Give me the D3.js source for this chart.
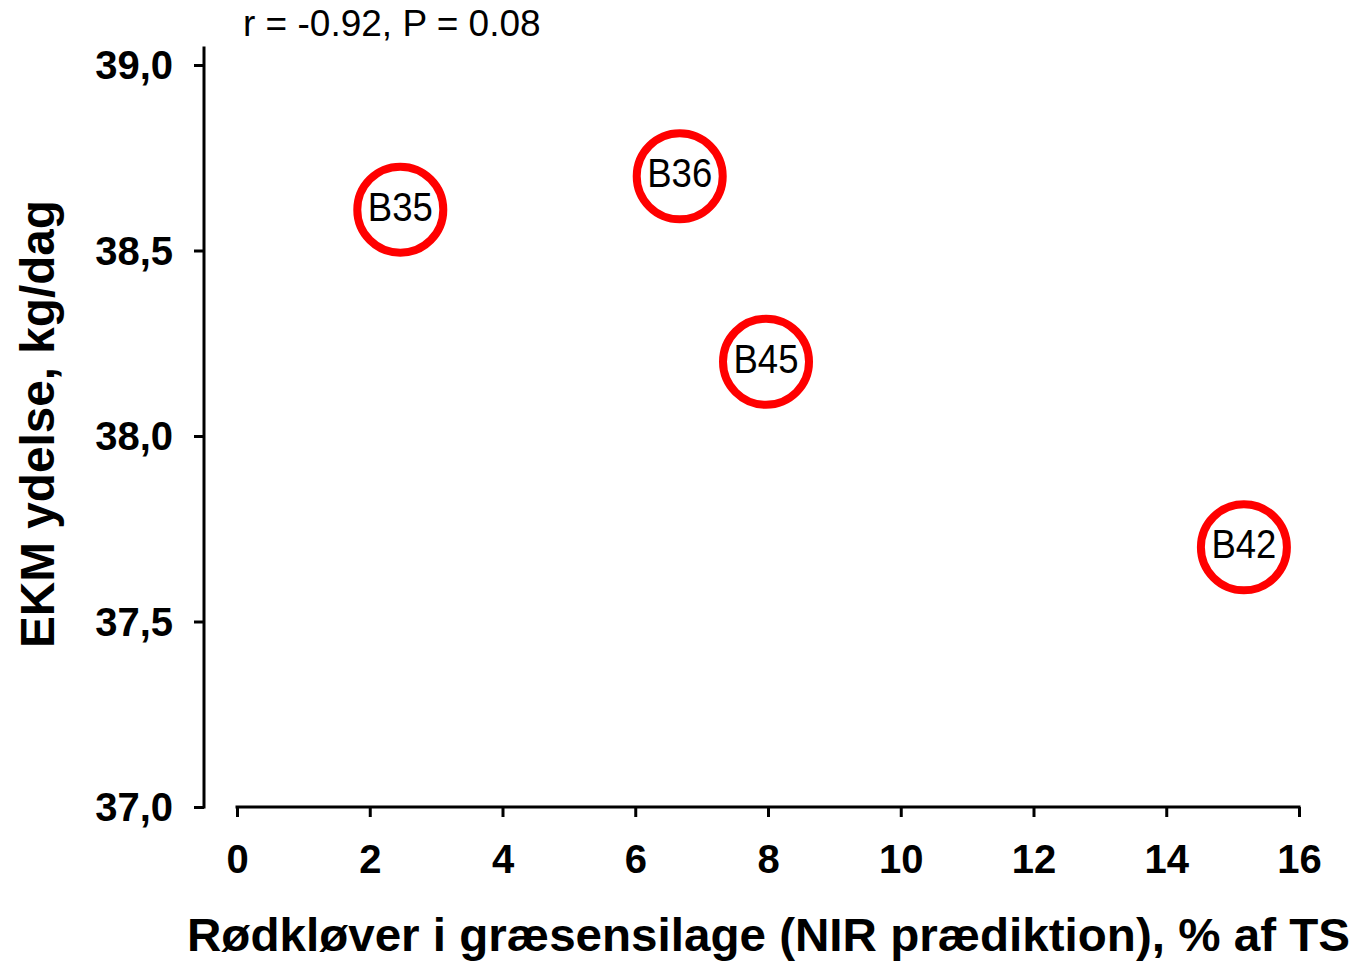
<!DOCTYPE html>
<html>
<head>
<meta charset="utf-8">
<script src="https://cdn.jsdelivr.net/npm/d3@7"></script>
<style>
  html, body { margin: 0; padding: 0; background: #fff; }
  svg { display: block; }
  text { font-family: Arial, "Liberation Sans", sans-serif; fill: #000; }
</style>
</head>
<body>
<svg id="chart" width="1355" height="964"></svg>
<script>
// ---- data ----
const labels = ["B35", "B36", "B45", "B42"];
const xValues = [2.46, 6.67, 7.97, 15.17];
const yValues = [38.61, 38.70, 38.20, 37.70];
const xTicks = [0, 2, 4, 6, 8, 10, 12, 14, 16];
const yTicks = [37.0, 37.5, 38.0, 38.5, 39.0];
const titleText = "r = -0.92, P = 0.08";
const xTitle = "Rødkløver i græsensilage (NIR prædiktion), % af TS";
const yTitle = "EKM ydelse, kg/dag";

const svg = d3.select("#chart");

const x = d3.scaleLinear().domain([0, 16]).range([237, 1299]);
const y = d3.scaleLinear().domain([37, 39]).range([807, 65]);
const yAxisX = 204;
const xAxisY = 807;

// Y axis
const yAxis = d3.axisLeft(y)
  .tickValues(yTicks)
  .tickSize(10)
  .tickPadding(21)
  .tickFormat(d => d3.format(".1f")(d).replace(".", ","));
const gy = svg.append("g").attr("transform", `translate(${yAxisX},0)`).call(yAxis);
gy.select(".domain").remove();
gy.selectAll(".tick line").attr("stroke", "#000").attr("stroke-width", 3);
gy.selectAll(".tick text")
  .attr("font-size", 40).attr("font-weight", "bold")
  .attr("dy", "0.34em").attr("fill", "#000");
gy.append("line")
  .attr("x1", 0).attr("x2", 0)
  .attr("y1", y(37) + 1.5).attr("y2", y(39.05))
  .attr("stroke", "#000").attr("stroke-width", 3);

// X axis
const xAxis = d3.axisBottom(x)
  .tickValues(xTicks)
  .tickSize(10)
  .tickPadding(28)
  .tickFormat(d3.format("d"));
const gx = svg.append("g").attr("transform", `translate(0,${xAxisY})`).call(xAxis);
gx.select(".domain").remove();
gx.selectAll(".tick line").attr("stroke", "#000").attr("stroke-width", 3);
gx.selectAll(".tick text")
  .attr("font-size", 40).attr("font-weight", "bold").attr("fill", "#000");
gx.append("line")
  .attr("x1", x(0) - 1.5).attr("x2", x(16) + 1.5)
  .attr("y1", 0).attr("y2", 0)
  .attr("stroke", "#000").attr("stroke-width", 3);

// Points
const pts = labels.map((l, i) => ({ l, x: xValues[i], y: yValues[i] }));
const gp = svg.append("g");
gp.selectAll("circle").data(pts).enter().append("circle")
  .attr("cx", d => x(d.x)).attr("cy", d => y(d.y))
  .attr("r", 43)
  .attr("fill", "none").attr("stroke", "#ff0000").attr("stroke-width", 8);
gp.selectAll("text").data(pts).enter().append("text")
  .attr("x", d => x(d.x)).attr("y", d => y(d.y) + 11)
  .attr("text-anchor", "middle")
  .attr("font-size", 41)
  .attr("textLength", 65).attr("lengthAdjust", "spacingAndGlyphs")
  .text(d => d.l);

// Title
svg.append("text")
  .attr("x", 243).attr("y", 36)
  .attr("font-size", 37)
  .text(titleText);

// X title
svg.append("text")
  .attr("x", 187).attr("y", 951)
  .attr("font-size", 46).attr("font-weight", "bold")
  .attr("textLength", 1163).attr("lengthAdjust", "spacingAndGlyphs")
  .text(xTitle);

// Y title
svg.append("text")
  .attr("transform", "translate(54,648) rotate(-90)")
  .attr("font-size", 48).attr("font-weight", "bold")
  .attr("textLength", 448).attr("lengthAdjust", "spacingAndGlyphs")
  .text(yTitle);
</script>
</body>
</html>
